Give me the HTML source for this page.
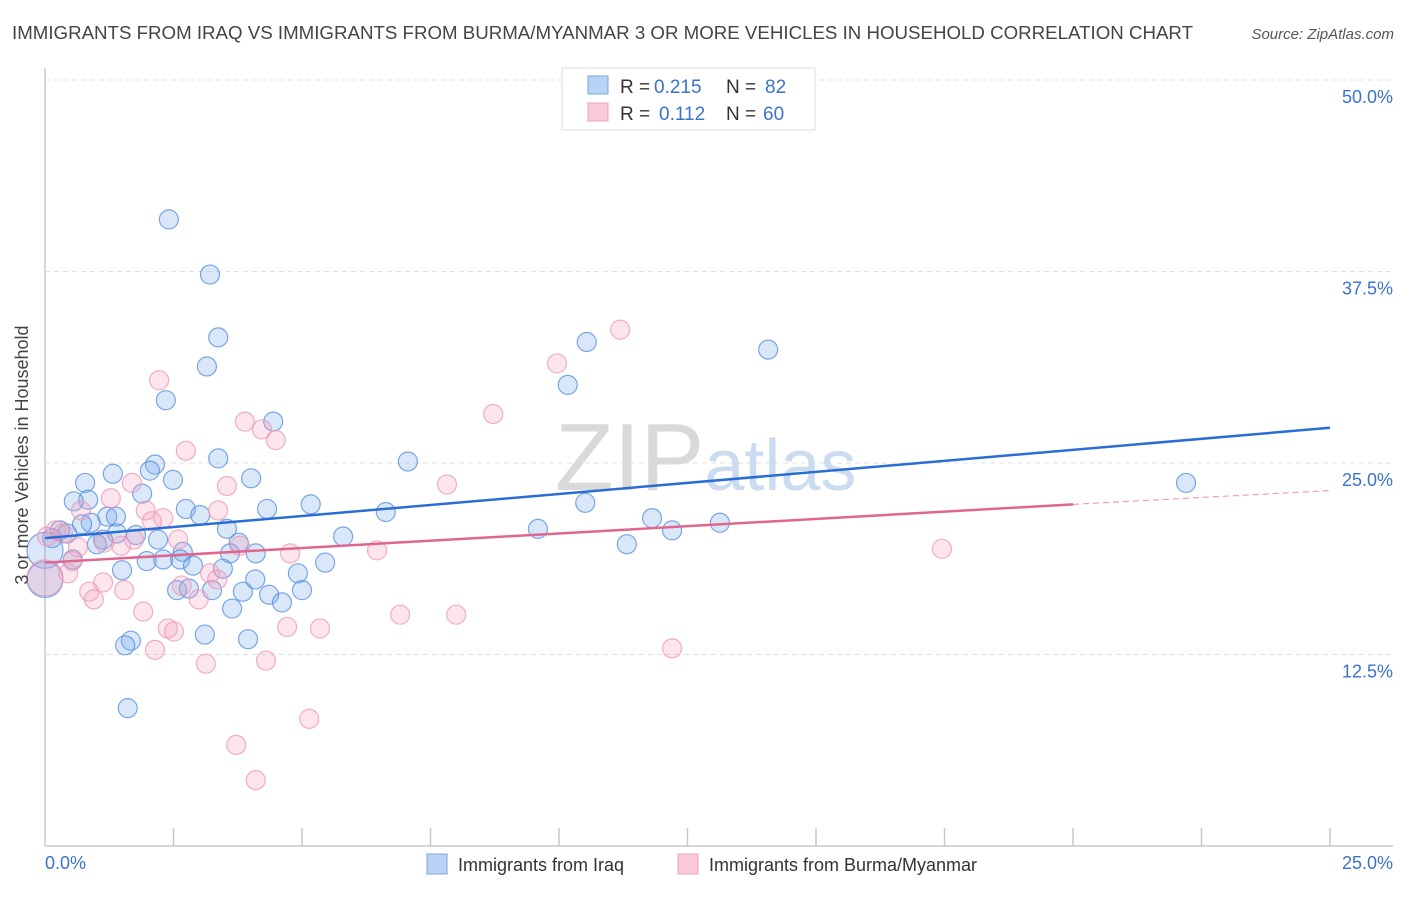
<!DOCTYPE html>
<html><head><meta charset="utf-8"><style>
body{margin:0;background:#fff;font-family:"Liberation Sans",sans-serif;}
svg text{font-family:"Liberation Sans",sans-serif;}
</style></head><body>
<svg width="1406" height="892" xmlns="http://www.w3.org/2000/svg">
<text x="12" y="39" font-size="18" fill="#444" textLength="1181" lengthAdjust="spacingAndGlyphs">IMMIGRANTS FROM IRAQ VS IMMIGRANTS FROM BURMA/MYANMAR 3 OR MORE VEHICLES IN HOUSEHOLD CORRELATION CHART</text>
<text x="1394" y="39" font-size="15" fill="#555" font-style="italic" text-anchor="end">Source: ZipAtlas.com</text>
<g id="grid"></g>
<text x="555" y="490" font-size="96" fill="#d9d9d9" font-family="Liberation Serif">ZIP<tspan fill="#ccdcf0" font-family="Liberation Sans" font-size="72">atlas</tspan></text>
<g id="pts"></g>
<g id="lines"></g>
<text x="28" y="455" font-size="18" fill="#444" text-anchor="middle" transform="rotate(-90 28 455)">3 or more Vehicles in Household</text>
<text x="45" y="869" font-size="18" fill="#3b73c9">0.0%</text>
<text x="1393" y="869" font-size="18" fill="#3b73c9" text-anchor="end">25.0%</text>
<g>
<rect x="562" y="68" width="253" height="62" fill="#fff" stroke="#ddd"/>
<rect x="588" y="76" width="20" height="18" fill="#b9d3f5" stroke="#7aa6e0"/>
<rect x="588" y="103" width="20" height="18" fill="#f9c9d7" stroke="#eea5bb"/>
<text y="93" font-size="19" fill="#333"><tspan x="620">R =</tspan><tspan x="654" fill="#3b73c9">0.215</tspan><tspan x="726">N =</tspan><tspan x="765" fill="#3b73c9">82</tspan></text>
<text y="120" font-size="19" fill="#333"><tspan x="620">R =</tspan><tspan x="659" fill="#3b73c9">0.112</tspan><tspan x="726">N =</tspan><tspan x="763" fill="#3b73c9">60</tspan></text>
</g>
<g>
<rect x="427" y="854" width="20" height="20" fill="#b9d3f5" stroke="#7aa6e0"/>
<text x="458" y="871" font-size="18" fill="#333">Immigrants from Iraq</text>
<rect x="678" y="854" width="20" height="20" fill="#f9c9d7" stroke="#eea5bb"/>
<text x="709" y="871" font-size="18" fill="#333">Immigrants from Burma/Myanmar</text>
</g>
</svg>
<script>
const yTicks=[12.5,25,37.5,50];
const yTickLabels=["12.5%","25.0%","37.5%","50.0%"];
const xTicks=[2.5,5,7.5,10,12.5,15,17.5,20,22.5,25];
const iraqX=[2.41,3.21,3.37,3.15,2.35,10.54,10.17,14.07,22.2,4.44,3.37,7.06,2.14,2.04,1.32,4.01,2.49,0.78,1.89,0.84,0.56,5.17,2.74,4.32,10.51,6.63,3.02,1.21,1.38,11.81,13.13,0.89,0.72,3.54,9.59,12.2,0.29,0.43,1.4,1.77,0.14,5.8,2.2,1.13,1.01,3.77,11.32,0,2.68,3.6,4.1,0.54,1.98,2.3,2.63,5.45,2.88,3.46,1.5,4.92,4.09,0,2.57,2.8,3.85,3.25,5.0,4.36,4.61,3.64,3.11,1.67,3.95,1.56,1.61];
const iraqY=[40.9,37.3,33.2,31.3,29.1,32.9,30.1,32.4,23.7,27.7,25.3,25.1,24.9,24.5,24.3,24.0,23.9,23.7,23.0,22.6,22.5,22.3,22.0,22.0,22.4,21.8,21.6,21.5,21.5,21.4,21.1,21.1,21.0,20.7,20.7,20.6,20.6,20.4,20.4,20.3,20.1,20.2,20.0,20.0,19.7,19.8,19.7,19.3,19.2,19.1,19.1,18.7,18.6,18.7,18.7,18.5,18.3,18.1,18.0,17.8,17.4,17.4,16.7,16.8,16.6,16.7,16.7,16.4,15.9,15.5,13.8,13.4,13.5,13.1,9.0];
const iraqBig=[47,61];
const burmaX=[11.19,9.96,2.22,8.72,3.89,4.22,4.49,2.74,7.82,3.54,1.69,1.28,0.7,1.96,3.37,2.3,2.08,0.21,0.04,0.35,1.73,1.48,2.59,1.15,0.64,3.79,4.77,6.46,17.45,0.53,0.45,0,3.21,3.35,2.66,1.13,1.54,0.86,0.95,2.99,1.91,6.91,8.0,4.71,2.39,2.51,5.35,2.14,12.2,3.13,4.3,5.14,3.72,4.1];
const burmaY=[33.7,31.5,30.4,28.2,27.7,27.2,26.5,25.8,23.6,23.5,23.7,22.7,21.9,21.9,21.9,21.4,21.2,20.6,20.2,20.4,20.0,19.6,20.0,19.8,19.5,19.6,19.1,19.3,19.4,18.6,17.8,17.5,17.8,17.4,17.0,17.2,16.7,16.6,16.1,16.1,15.3,15.1,15.1,14.3,14.2,14.0,14.2,12.8,12.9,11.9,12.1,8.3,6.6,4.3];
const burmaBig=[31];
const iraqTrend=[[0,20.1],[25,27.3]];
const burmaTrend=[[0,18.5],[20,22.3],[25,23.2]];
const X=v=>45+v/25*1285, Y=v=>846-v/12.5*191.5;
const NS="http://www.w3.org/2000/svg";
function mk(t,a,p){const e=document.createElementNS(NS,t);for(const k in a)e.setAttribute(k,a[k]);p.appendChild(e);return e;}
const g=document.getElementById('grid');
let ax=mk('line',{x1:45,y1:68,x2:45,y2:846,stroke:'#c8c8c8','stroke-width':1.5},g);

let bx=mk('line',{x1:45,y1:846,x2:1393,y2:846,stroke:'#c8c8c8','stroke-width':1.5},g);

yTicks.forEach((t,i)=>{
 const l=mk('line',{x1:45,y1:Y(t),x2:1393,y2:Y(t),stroke:'#e0e0e0','stroke-dasharray':'5,4'},g);
 
 const tx=mk('text',{x:1393,y:Y(t)+23,'font-size':18,fill:'#3b73c9','text-anchor':'end'},g);
 tx.textContent=yTickLabels[i];
 
});
xTicks.forEach(t=>{
 const l=mk('line',{x1:X(t),y1:828,x2:X(t),y2:846,stroke:'#c8c8c8','stroke-width':1.5},g);
 
});
const p=document.getElementById('pts');
function draw(xs,ys,big,fill,stroke,name){
 xs.forEach((x,i)=>{
  const c=mk('circle',{cx:X(x),cy:Y(ys[i]),r:big.includes(i)?18:9.5,fill:fill,stroke:stroke,'stroke-width':1.2},p);
  
 });
}
draw(iraqX,iraqY,iraqBig,'rgba(120,170,235,0.28)','rgba(80,140,220,0.75)','iraq-point');
draw(burmaX,burmaY,burmaBig,'rgba(245,160,190,0.28)','rgba(235,150,180,0.75)','burma-point');
const L=document.getElementById('lines');
let t1=mk('line',{x1:X(iraqTrend[0][0]),y1:Y(iraqTrend[0][1]),x2:X(iraqTrend[1][0]),y2:Y(iraqTrend[1][1]),stroke:'#2a6dd4','stroke-width':2.5},L);

let t2=mk('line',{x1:X(burmaTrend[0][0]),y1:Y(burmaTrend[0][1]),x2:X(burmaTrend[1][0]),y2:Y(burmaTrend[1][1]),stroke:'#e0668f','stroke-width':2.5},L);

let t3=mk('line',{x1:X(burmaTrend[1][0]),y1:Y(burmaTrend[1][1]),x2:X(burmaTrend[2][0]),y2:Y(burmaTrend[2][1]),stroke:'#e8a0b8','stroke-width':1.2,'stroke-dasharray':'6,4'},L);

</script>
</body></html>
